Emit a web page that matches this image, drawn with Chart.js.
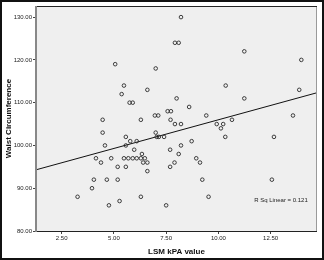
<!DOCTYPE html>
<html>
<head>
<meta charset="utf-8">
<script src="https://cdn.jsdelivr.net/npm/chart.js@4"></script>
<style>
  html, body { margin: 0; padding: 0; background: #fff; }
  #wrap { width: 324px; height: 260px; position: relative; }
</style>
</head>
<body>
<div id="wrap"><canvas id="c"></canvas></div>
<script>
// LSM kPA value (x) and waist circumference (y)
var lsm = [3.26,3.95,4.04,4.14,4.38, 4.46,4.46,4.57,4.66,4.76, 4.87,5.06,5.18,5.18,5.27,
    5.37,5.48,5.57,5.57,5.57, 5.78,5.75,5.9,5.97,6.09, 5.48,5.69,5.9,6.09,6.29,6.48,
    6.34,6.4,6.6,6.6, 6.29,6.29,6.6,6.96,7.12, 7.0,7.0,7.05,7.15,7.4, 7.5,7.57,7.73,7.71,7.69,
    7.69,7.9,7.92,8.21,7.92, 8.1,8.21,8.0,8.1,8.21, 8.6,8.72,8.94,9.12,9.23,
    9.42,9.53,9.92,10.23,10.12, 10.33,10.35,10.65,11.24,11.24, 12.56,12.66,13.57,13.87,13.97];
var waist = [88,90,92,97,96, 106,103,100,92,86, 97,119,95,92,87,
    112,114,102,100,95, 101,110,110,99,101, 97,97,97,97,97,97,
    98,96,96,94, 106,88,113,107,107, 118,103,102,102,102, 86,108,108,106,99,
    95,96,105,105,124, 124,130,111,98,100, 109,101,97,96,92,
    107,88,105,105,104, 102,114,106,122,111, 92,102,107,113,120];

var xTicks = [2.5, 5, 7.5, 10, 12.5];
var yTicks = [80, 90, 100, 110, 120, 130];
var xMin = 1.27, xMax = 14.72;
var yMin = 80, yMax = 132.6;

// fit line as shown in the picture
var fitIntercept = 92.6;
var fitSlope = 1.34;
var rSqLabel = 'R Sq Linear = 0.121';

var pts = lsm.map(function(x, i) { return { x: x, y: waist[i] }; });
var fit = [xMin, xMax].map(function(x) { return { x: x, y: fitIntercept + fitSlope * x }; });

var FONT = '"Liberation Sans", Arial, sans-serif';

var framePlugin = {
    id: 'frame',
    beforeDatasetsDraw: function(chart) {
        var a = chart.chartArea, ctx = chart.ctx;
        ctx.save();
        ctx.fillStyle = '#efefef';
        ctx.fillRect(a.left, a.top, a.right - a.left, a.bottom - a.top);
        ctx.restore();
    },
    afterDraw: function(chart) {
        var a = chart.chartArea, ctx = chart.ctx;
        ctx.save();
        ctx.strokeStyle = '#9a9a9a';
        ctx.lineWidth = 1;
        ctx.strokeRect(a.left + 0.5, a.top + 0.5, a.right - a.left - 1, a.bottom - a.top);
        ctx.strokeStyle = '#222';
        ctx.beginPath();
        ctx.moveTo(a.left, a.top + 0.5); ctx.lineTo(a.right, a.top + 0.5);
        ctx.moveTo(a.left, a.bottom + 0.5); ctx.lineTo(a.right, a.bottom + 0.5);
        ctx.stroke();
        ctx.strokeStyle = '#888';
        ctx.lineWidth = 2;
        ctx.beginPath();
        ctx.moveTo(a.left, a.top); ctx.lineTo(a.left, a.bottom + 1);
        ctx.stroke();
        // R squared note
        ctx.fillStyle = '#222';
        ctx.font = '6px ' + FONT;
        ctx.textAlign = 'center';
        ctx.textBaseline = 'middle';
        ctx.fillText(rSqLabel, 281, 200);
        // outer border
        ctx.strokeStyle = '#111';
        ctx.lineWidth = 2;
        ctx.strokeRect(1, 1, chart.width - 2, chart.height - 2);
        ctx.restore();
    }
};

new Chart(document.getElementById('c'), {
    type: 'scatter',
    data: {
        datasets: [
            {
                label: 'Waist Circumference',
                data: pts,
                pointRadius: 1.8,
                pointBorderWidth: 0.9,
                borderColor: '#2a2a2a',
                backgroundColor: 'rgba(0,0,0,0)',
                pointHoverRadius: 1.8
            },
            {
                type: 'line',
                label: 'Fit',
                data: fit,
                borderColor: '#111',
                borderWidth: 1,
                pointRadius: 0,
                fill: false
            }
        ]
    },
    options: {
        responsive: true, maintainAspectRatio: false,
        animation: false,
        layout: { padding: { top: 6, right: 7, bottom: 0, left: 0 } },
        plugins: { legend: { display: false }, tooltip: { enabled: false } },
        scales: {
            x: {
                type: 'linear', min: xMin, max: xMax,
                afterBuildTicks: function(s) { s.ticks = xTicks.map(function(v) { return { value: v }; }); },
                afterFit: function(s) { s.height = 29; },
                grid: { drawOnChartArea: false, drawTicks: true, tickLength: 3, color: '#444' },
                border: { display: false },
                ticks: {
                    color: '#222', padding: 1, maxRotation: 0,
                    font: { family: FONT, size: 6 },
                    callback: function(v) { return v.toFixed(2); }
                },
                title: {
                    display: true, text: 'LSM kPA value', color: '#111',
                    font: { family: FONT, size: 8, weight: 'bold' },
                    padding: { top: 0, bottom: 3.5 }
                }
            },
            y: {
                type: 'linear', min: yMin, max: yMax,
                afterBuildTicks: function(s) { s.ticks = yTicks.map(function(v) { return { value: v }; }); },
                afterFit: function(s) { s.width = 36; },
                grid: { drawOnChartArea: false, drawTicks: true, tickLength: 3, color: '#444' },
                border: { display: false },
                ticks: {
                    color: '#222', padding: 1,
                    font: { family: FONT, size: 6 },
                    callback: function(v) { return v.toFixed(2); }
                },
                title: {
                    display: true, text: 'Waist Circumference', color: '#111',
                    font: { family: FONT, size: 8, weight: 'bold' },
                    padding: { top: 3.7, bottom: 0 }
                }
            }
        }
    },
    plugins: [framePlugin]
});
</script>
</body>
</html>
